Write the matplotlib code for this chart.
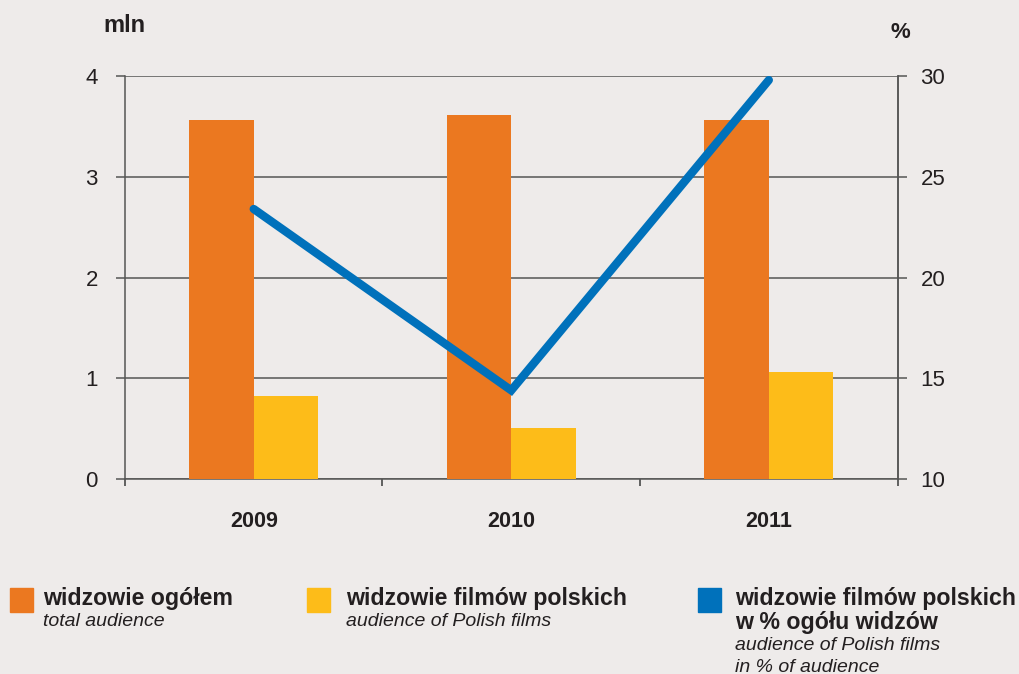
import matplotlib
matplotlib.use('Agg')
import matplotlib.pyplot as plt
import matplotlib.patches as mpatches
import numpy as np

plt.rcParams['font.family'] = ['Liberation Sans', 'DejaVu Sans']

TLO     = '#EEEBEA'
POMAR   = '#EB7820'   # widzowie ogółem
ZOLTY   = '#FDBC19'   # widzowie filmów polskich
NIEB    = '#0071BB'   # udział %
CIEMNY  = '#231F20'
LINIA   = '#555555'

# ── Dane ───────────────────────────────────────────────────────────────────────
lata = ['2009', '2010', '2011']
ogolem = [3.56, 3.61, 3.56]          # mln
polskie = [0.82, 0.51, 1.06]         # mln
udzial = [23.4, 14.4, 29.8]          # %

y_ticks_l = [0, 1, 2, 3, 4]
y_ticks_r = [10, 15, 20, 25, 30]

# ── Figura ─────────────────────────────────────────────────────────────────────
fig = plt.figure(figsize=(10.2, 6.74), dpi=100, facecolor=TLO)
ax = fig.add_axes([0.1225, 0.2893, 0.7575, 0.5979])
ax.set_facecolor(TLO)

x = np.arange(len(lata))
w = 0.25
ax.bar(x - w / 2, ogolem, width=w, color=POMAR, zorder=3)
ax.bar(x + w / 2, polskie, width=w, color=ZOLTY, zorder=3)

ax.set_xlim(-0.5, len(lata) - 0.5)
ax.set_ylim(0, 4)
ax.set_yticks(y_ticks_l)
for v in y_ticks_l:
    ax.axhline(v, color=LINIA, linewidth=1.1, zorder=1)

ax.spines['top'].set_visible(False)
for s in ['left', 'right', 'bottom']:
    ax.spines[s].set_color(LINIA)
    ax.spines[s].set_linewidth(1.1)

ax.tick_params(axis='y', direction='out', length=6.5, width=1.1, color=LINIA,
               labelsize=16, labelcolor=CIEMNY, pad=13)
ax.set_xticks(x)
ax.set_xticklabels(lata, fontsize=15.5, fontweight='bold', color=CIEMNY)
ax.tick_params(axis='x', length=0, pad=23)
ax.set_xticks(np.arange(len(lata) + 1) - 0.5, minor=True)
ax.tick_params(axis='x', which='minor', direction='out', length=5,
               width=1.3, color=LINIA)

# ── Oś prawa: udział procentowy ───────────────────────────────────────────────
ax2 = ax.twinx()
ax2.set_ylim(10, 30)
ax2.set_yticks(y_ticks_r)
ax2.plot(x, udzial, color=NIEB, linewidth=6, solid_capstyle='round',
         solid_joinstyle='miter', zorder=5)
for s in ['top', 'left', 'bottom']:
    ax2.spines[s].set_visible(False)
ax2.spines['right'].set_color(LINIA)
ax2.spines['right'].set_linewidth(1.1)
ax2.tick_params(axis='y', direction='out', length=6.5, width=1.1, color=LINIA,
                labelsize=16, labelcolor=CIEMNY, pad=10)

fig.text(103 / 1020, 1 - 26 / 674, 'mln', fontsize=17, fontweight='bold',
         color=CIEMNY, ha='left', va='center')
fig.text(900 / 1020, 1 - 33 / 674, '%', fontsize=16, fontweight='bold',
         color=CIEMNY, ha='center', va='center')

# ── Legenda ───────────────────────────────────────────────────────────────────
legenda = [
    (10, 43, POMAR, ['widzowie ogółem'], ['total audience']),
    (307, 346, ZOLTY, ['widzowie filmów polskich'], ['audience of Polish films']),
    (698, 735, NIEB, ['widzowie filmów polskich', 'w % ogółu widzów'],
     ['audience of Polish films', 'in % of audience']),
]
W, H = fig.get_size_inches() * fig.dpi
for xk, xt, kolor, pl, en in legenda:
    fig.patches.append(mpatches.Rectangle(
        (xk / W, 1 - 612 / H), 23 / W, 24 / H, color=kolor,
        transform=fig.transFigure, figure=fig))
    yy = 599
    for t in pl:
        fig.text(xt / W, 1 - yy / H, t, fontsize=16.7, fontweight='bold',
                 color=CIEMNY, ha='left', va='center')
        yy += 24
    yy -= 1
    for t in en:
        fig.text(xt / W, 1 - yy / H, t, fontsize=14, style='italic',
                 color=CIEMNY, ha='left', va='center')
        yy += 21

plt.savefig('out.png', dpi=100, facecolor=TLO)
plt.close()
